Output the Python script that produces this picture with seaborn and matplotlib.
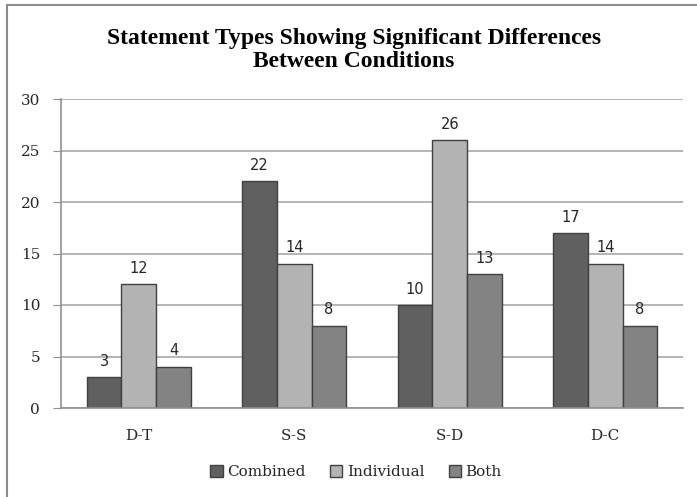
import pandas as pd
import seaborn as sns
import matplotlib.pyplot as plt
from matplotlib.patches import Rectangle

# chart values
categories = ['D-T', 'S-S', 'S-D', 'D-C']
combined = [3, 22, 10, 17]
individual = [12, 14, 26, 14]
both = [4, 8, 13, 8]
series = ['Combined', 'Individual', 'Both']
colors = ['#606060', '#b3b3b3', '#838383']

df = pd.DataFrame({
    'type': categories * 3,
    'count': combined + individual + both,
    'condition': [s for s in series for _ in categories],
})

sns.set_style('white')
plt.rcParams['font.family'] = ['DejaVu Serif']

fig = plt.figure(figsize=(6.97, 4.97), dpi=100)
ax = fig.add_axes([61 / 697, (497 - 408) / 497, 622 / 697, 309 / 497])

sns.barplot(data=df, x='type', y='count', hue='condition', palette=colors,
            width=0.67, gap=0, edgecolor='#404040', linewidth=1, ax=ax,
            saturation=1, legend=True)

for c in ax.containers:
    ax.bar_label(c, padding=6, fontsize=10.5, family='DejaVu Sans')

ax.set_ylim(0, 30)
ax.set_yticks(range(0, 31, 5))
ax.set_xlim(-0.5, 3.5)
ax.yaxis.grid(True, color='#a8a8a8', linewidth=1.2)
ax.set_axisbelow(True)
ax.set_xlabel('')
ax.set_ylabel('')
for side in ['top', 'right']:
    ax.spines[side].set_visible(False)
ax.spines['left'].set_color('#909090')
ax.spines['bottom'].set_color('#909090')
ax.spines['left'].set_linewidth(1.2)
ax.spines['bottom'].set_linewidth(1.2)
ax.set_xticks([-0.5, 0.5, 1.5, 2.5, 3.5], minor=True)
ax.tick_params(axis='x', which='major', length=0, labelsize=11, pad=15)
ax.tick_params(axis='x', which='minor', length=6, color='#909090', direction='out')
ax.tick_params(axis='y', length=6, color='#909090', labelsize=11,
               direction='out', pad=9)
ax.tick_params(axis='y', left=True)
ax.tick_params(axis='x', bottom=True)

ax.legend(loc='center', bbox_to_anchor=(356 / 697, 1 - 472 / 497),
          bbox_transform=fig.transFigure, ncol=3, frameon=False,
          handlelength=0.8, handleheight=0.8, handletextpad=0.3,
          columnspacing=1.6, fontsize=11)

fig.text(354 / 697, 1 - 50 / 497,
         'Statement Types Showing Significant Differences\nBetween Conditions',
         ha='center', va='center', fontsize=17, fontweight='bold',
         family='Liberation Serif', color='black', linespacing=1.18)

fig.patches.append(Rectangle((7 / 697, -0.1), 1.2, 1 - 5 / 497 + 0.1,
                             transform=fig.transFigure, fill=False,
                             edgecolor='#8c8c8c', linewidth=1.5))

fig.savefig('out.png', dpi=100)
